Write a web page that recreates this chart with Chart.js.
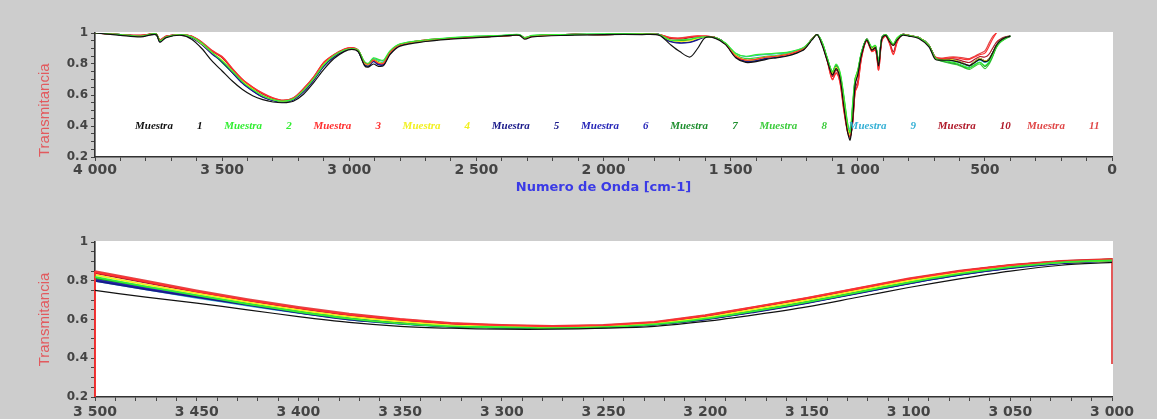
<!DOCTYPE html>
<html>
<head>
<meta charset="utf-8">
<script src="https://cdn.jsdelivr.net/npm/chart.js@4.4.1/dist/chart.umd.min.js"></script>
<style>
  body { margin: 0; background: #cdcdcd; width: 1157px; height: 419px; overflow: hidden; position: relative; }
  .box { position: absolute; left: 0; width: 1157px; }
</style>
</head>
<body>
<div class="box" style="top:0; height:205px"><canvas id="spectrum"></canvas></div>
<div class="box" style="top:205px; height:214px"><canvas id="zoomband"></canvas></div>
<script>
// sample names and colours
const muestras = ['Muestra 1','Muestra 2','Muestra 3','Muestra 4','Muestra 5','Muestra 6','Muestra 7','Muestra 8','Muestra 9','Muestra 10','Muestra 11'];
const colores = ['#111111','#33ee33','#ff3030','#f2f020','#1a1a8a','#2727b8','#1f8f2f','#3ccc3c','#35b0d5','#b01a2a','#e04848'];

// full spectrum, wavenumber (cm-1)
const ondaTop = [
  4000,3900,3820,3760,3745,3720,3660,3620,
  3580,3540,3500,3460,3420,3380,3340,3300,3260,3220,3180,3140,3100,3060,3020,2990,
  2965,2940,2925,2905,2885,2865,2840,2800,
  2700,2600,2500,2400,2330,2310,2280,2150,2000,1850,1780,
  1740,1700,1660,1630,1600,1560,1520,
  1480,1440,1400,1360,1320,1280,1240,1210,1180,
  1160,1140,1120,1100,1085,1070,1055,1040,1030,1020,1010,1000,985,965,945,930,918,905,890,875,860,845,825,
  800,760,720,695,670,640,610,580,560,540,520,500,485,470,455,440,420,400
];

const m1 = [
  1.00,0.985,0.975,0.99,0.94,0.97,0.985,0.96,
  0.90,0.82,0.755,0.69,0.635,0.595,0.57,0.555,0.55,0.56,0.605,0.68,0.765,0.835,0.88,0.895,
  0.88,0.79,0.78,0.80,0.785,0.79,0.86,0.915,
  0.945,0.96,0.97,0.98,0.985,0.96,0.975,0.985,0.99,0.99,0.985,
  0.93,0.88,0.845,0.90,0.97,0.965,0.925,
  0.84,0.81,0.815,0.83,0.84,0.85,0.87,0.895,0.955,
  0.99,0.92,0.82,0.73,0.77,0.71,0.53,0.36,0.31,0.44,0.67,0.73,0.86,0.955,0.89,0.905,0.79,0.965,0.985,0.945,0.92,0.955,0.985,
  0.98,0.965,0.91,0.83,0.825,0.825,0.815,0.80,0.79,0.81,0.83,0.815,0.825,0.87,0.92,0.95,0.97,0.98
];
const m2 = [
  1.00,0.99,0.98,0.995,0.95,0.975,0.99,0.975,
  0.935,0.875,0.82,0.755,0.685,0.635,0.595,0.57,0.56,0.575,0.63,0.705,0.795,0.855,0.89,0.90,
  0.89,0.815,0.805,0.84,0.83,0.825,0.885,0.93,
  0.955,0.97,0.98,0.985,0.99,0.97,0.985,0.99,0.995,0.995,0.99,
  0.955,0.955,0.96,0.97,0.975,0.97,0.935,
  0.87,0.85,0.86,0.865,0.87,0.875,0.89,0.91,0.96,
  0.99,0.94,0.84,0.75,0.80,0.75,0.60,0.42,0.36,0.55,0.71,0.76,0.88,0.96,0.91,0.92,0.82,0.97,0.99,0.96,0.93,0.97,0.99,
  0.985,0.97,0.92,0.84,0.825,0.815,0.805,0.785,0.775,0.795,0.81,0.79,0.81,0.855,0.91,0.94,0.965,0.98
];
const m3 = [
  1.00,0.99,0.985,0.995,0.955,0.98,0.99,0.98,
  0.94,0.885,0.845,0.77,0.70,0.65,0.61,0.58,0.565,0.58,0.64,0.715,0.81,0.86,0.895,0.905,
  0.89,0.81,0.80,0.825,0.805,0.805,0.875,0.925,
  0.955,0.965,0.975,0.98,0.985,0.97,0.98,0.99,0.99,0.995,0.99,
  0.97,0.965,0.975,0.98,0.98,0.97,0.93,
  0.85,0.825,0.83,0.845,0.85,0.86,0.88,0.905,0.96,
  0.99,0.93,0.82,0.70,0.74,0.68,0.50,0.36,0.33,0.42,0.62,0.66,0.84,0.95,0.88,0.89,0.76,0.95,0.98,0.93,0.86,0.94,0.99,
  0.985,0.97,0.92,0.845,0.835,0.84,0.84,0.83,0.83,0.845,0.86,0.87,0.91,0.96,1.00,null,null,null
];
const m4 = [
  1.00,0.99,0.98,0.99,0.95,0.975,0.99,0.975,
  0.93,0.875,0.825,0.755,0.69,0.64,0.595,0.57,0.56,0.575,0.63,0.705,0.80,0.855,0.89,0.90,
  0.885,0.805,0.795,0.825,0.81,0.805,0.875,0.925,
  0.95,0.965,0.975,0.98,0.985,0.965,0.98,0.99,0.99,0.995,0.99,
  0.955,0.945,0.95,0.965,0.975,0.97,0.93,
  0.855,0.825,0.83,0.845,0.85,0.86,0.88,0.90,0.96,
  0.99,0.93,0.83,0.74,0.78,0.72,0.56,0.39,0.34,0.47,0.69,0.75,0.87,0.96,0.90,0.91,0.80,0.97,0.99,0.95,0.92,0.96,0.99,
  0.985,0.97,0.92,0.835,0.83,0.83,0.82,0.80,0.79,0.815,0.835,0.82,0.83,0.87,0.92,0.95,0.97,0.98
];
const m5 = [
  1.00,0.99,0.98,0.99,0.945,0.975,0.99,0.97,
  0.925,0.865,0.815,0.745,0.675,0.625,0.585,0.565,0.555,0.57,0.62,0.695,0.785,0.845,0.885,0.90,
  0.88,0.795,0.785,0.815,0.795,0.795,0.865,0.92,
  0.95,0.965,0.975,0.98,0.985,0.965,0.98,0.99,0.99,0.995,0.99,
  0.945,0.935,0.94,0.955,0.975,0.97,0.93,
  0.845,0.815,0.82,0.835,0.845,0.855,0.875,0.90,0.96,
  0.99,0.93,0.83,0.74,0.78,0.72,0.55,0.38,0.33,0.45,0.68,0.74,0.87,0.96,0.90,0.91,0.80,0.97,0.99,0.95,0.92,0.96,0.99,
  0.985,0.97,0.92,0.84,0.83,0.83,0.82,0.80,0.79,0.815,0.835,0.82,0.83,0.87,0.92,0.95,0.97,0.98
];
const m6 = [
  1.00,0.99,0.98,0.99,0.948,0.975,0.99,0.972,
  0.928,0.868,0.818,0.748,0.678,0.628,0.588,0.565,0.555,0.57,0.622,0.698,0.788,0.848,0.888,0.90,
  0.882,0.798,0.788,0.818,0.798,0.798,0.868,0.92,
  0.95,0.965,0.975,0.98,0.985,0.965,0.98,0.99,0.99,0.995,0.99,
  0.948,0.938,0.942,0.958,0.975,0.97,0.93,
  0.848,0.818,0.822,0.838,0.845,0.855,0.875,0.90,0.96,
  0.99,0.93,0.83,0.74,0.78,0.72,0.55,0.38,0.335,0.455,0.68,0.74,0.87,0.96,0.90,0.91,0.80,0.97,0.99,0.95,0.92,0.96,0.99,
  0.985,0.97,0.92,0.84,0.83,0.83,0.82,0.80,0.79,0.815,0.835,0.82,0.83,0.87,0.92,0.95,0.97,0.98
];
const m7 = [
  1.00,0.99,0.98,0.995,0.95,0.975,0.99,0.975,
  0.935,0.875,0.81,0.745,0.68,0.63,0.59,0.565,0.555,0.57,0.625,0.70,0.79,0.85,0.89,0.90,
  0.885,0.80,0.79,0.82,0.80,0.80,0.87,0.92,
  0.95,0.965,0.975,0.98,0.985,0.965,0.98,0.99,0.99,0.995,0.99,
  0.955,0.95,0.955,0.965,0.975,0.97,0.93,
  0.85,0.82,0.825,0.84,0.845,0.855,0.875,0.90,0.96,
  0.99,0.935,0.835,0.745,0.79,0.735,0.58,0.40,0.35,0.52,0.70,0.75,0.875,0.96,0.905,0.915,0.81,0.97,0.99,0.955,0.925,0.965,0.99,
  0.985,0.97,0.92,0.84,0.82,0.81,0.80,0.78,0.775,0.795,0.81,0.785,0.805,0.85,0.91,0.94,0.965,0.98
];
const m8 = [
  1.00,0.99,0.98,0.995,0.95,0.975,0.99,0.975,
  0.932,0.872,0.815,0.75,0.683,0.632,0.592,0.567,0.557,0.572,0.627,0.702,0.792,0.852,0.89,0.90,
  0.888,0.808,0.80,0.83,0.815,0.81,0.878,0.925,
  0.952,0.967,0.977,0.982,0.987,0.967,0.982,0.99,0.992,0.995,0.99,
  0.953,0.95,0.955,0.967,0.975,0.97,0.932,
  0.86,0.835,0.84,0.85,0.855,0.865,0.882,0.905,0.96,
  0.99,0.94,0.84,0.75,0.795,0.74,0.59,0.41,0.355,0.53,0.705,0.755,0.877,0.96,0.905,0.915,0.81,0.97,0.99,0.955,0.928,0.965,0.99,
  0.985,0.97,0.92,0.838,0.818,0.805,0.795,0.775,0.765,0.785,0.80,0.77,0.795,0.845,0.905,0.94,0.962,0.978
];
const m9 = [
  1.00,0.99,0.98,0.99,0.95,0.975,0.99,0.975,
  0.93,0.87,0.81,0.745,0.68,0.628,0.59,0.565,0.555,0.57,0.625,0.70,0.79,0.85,0.89,0.90,
  0.887,0.81,0.80,0.835,0.825,0.82,0.88,0.928,
  0.953,0.968,0.978,0.983,0.988,0.968,0.983,0.99,0.993,0.995,0.99,
  0.952,0.95,0.955,0.966,0.975,0.97,0.933,
  0.868,0.848,0.855,0.862,0.866,0.872,0.888,0.908,0.96,
  0.99,0.935,0.835,0.745,0.785,0.73,0.57,0.40,0.345,0.50,0.70,0.75,0.875,0.96,0.90,0.912,0.805,0.97,0.99,0.952,0.925,0.962,0.99,
  0.985,0.97,0.92,0.84,0.828,0.825,0.815,0.795,0.785,0.808,0.825,0.81,0.822,0.865,0.918,0.948,0.968,0.98
];
const m10 = [
  1.00,0.99,0.985,0.995,0.955,0.98,0.99,0.978,
  0.938,0.882,0.84,0.765,0.695,0.645,0.605,0.577,0.563,0.578,0.637,0.712,0.805,0.858,0.893,0.903,
  0.888,0.806,0.797,0.823,0.803,0.803,0.872,0.923,
  0.953,0.965,0.975,0.98,0.985,0.968,0.98,0.99,0.99,0.995,0.99,
  0.965,0.96,0.97,0.975,0.978,0.97,0.93,
  0.85,0.822,0.828,0.843,0.848,0.858,0.878,0.903,0.96,
  0.99,0.93,0.825,0.72,0.76,0.70,0.52,0.37,0.33,0.43,0.64,0.69,0.85,0.955,0.89,0.90,0.78,0.96,0.985,0.94,0.88,0.95,0.99,
  0.985,0.97,0.92,0.842,0.833,0.835,0.83,0.815,0.81,0.83,0.848,0.845,0.86,0.90,0.94,0.96,0.975,0.982
];
const m11 = [
  1.00,0.99,0.985,0.995,0.957,0.98,0.99,0.98,
  0.942,0.888,0.848,0.772,0.702,0.652,0.612,0.582,0.567,0.582,0.642,0.717,0.812,0.862,0.897,0.906,
  0.89,0.81,0.80,0.825,0.805,0.805,0.875,0.925,
  0.955,0.965,0.975,0.98,0.985,0.97,0.98,0.99,0.99,0.995,0.99,
  0.972,0.968,0.977,0.982,0.98,0.97,0.93,
  0.85,0.825,0.83,0.845,0.85,0.86,0.88,0.905,0.96,
  0.99,0.93,0.82,0.70,0.745,0.685,0.51,0.365,0.335,0.425,0.625,0.665,0.845,0.95,0.885,0.89,0.765,0.955,0.98,0.935,0.865,0.945,0.99,
  0.985,0.97,0.92,0.845,0.838,0.845,0.845,0.838,0.835,0.85,0.868,0.885,0.93,0.975,1.00,null,null,null
];

// O-H band close up, 3500 -> 3000 cm-1
const ondaBot = [3500,3475,3450,3425,3400,3375,3350,3325,3300,3275,3250,3225,3200,3175,3150,3125,3100,3075,3050,3025,3000];
const b1  = [0.75,0.715,0.685,0.65,0.615,0.585,0.565,0.555,0.55,0.55,0.555,0.565,0.59,0.625,0.665,0.715,0.765,0.81,0.85,0.88,0.895];
const b2  = [0.82,0.77,0.725,0.68,0.64,0.605,0.58,0.565,0.56,0.555,0.56,0.575,0.605,0.645,0.69,0.74,0.79,0.835,0.87,0.895,0.905];
const b3  = [0.845,0.795,0.745,0.70,0.66,0.625,0.60,0.58,0.57,0.565,0.57,0.585,0.62,0.665,0.71,0.76,0.81,0.85,0.88,0.90,0.91];
const b4  = [0.83,0.78,0.735,0.69,0.65,0.615,0.59,0.57,0.565,0.56,0.565,0.58,0.61,0.655,0.70,0.75,0.80,0.84,0.875,0.895,0.905];
const b5  = [0.80,0.755,0.715,0.675,0.635,0.60,0.58,0.565,0.56,0.555,0.56,0.575,0.60,0.64,0.685,0.735,0.785,0.83,0.865,0.89,0.905];
const b6  = [0.805,0.76,0.72,0.678,0.637,0.603,0.58,0.565,0.56,0.555,0.56,0.575,0.602,0.642,0.687,0.737,0.787,0.832,0.867,0.892,0.905];
const b7  = [0.81,0.765,0.72,0.68,0.64,0.605,0.58,0.565,0.56,0.555,0.56,0.575,0.605,0.645,0.69,0.74,0.79,0.835,0.87,0.895,0.905];
const b8  = [0.815,0.77,0.725,0.682,0.642,0.607,0.582,0.566,0.56,0.556,0.561,0.577,0.607,0.647,0.692,0.742,0.792,0.837,0.872,0.896,0.906];
const b9  = [0.80,0.755,0.712,0.672,0.634,0.60,0.578,0.563,0.558,0.554,0.559,0.574,0.603,0.642,0.686,0.736,0.786,0.831,0.866,0.891,0.904];
const b10 = [0.84,0.79,0.742,0.697,0.657,0.622,0.597,0.578,0.568,0.563,0.568,0.583,0.617,0.662,0.707,0.757,0.807,0.848,0.879,0.90,0.91];
const b11 = [0.85,0.80,0.75,0.705,0.665,0.63,0.603,0.582,0.572,0.567,0.572,0.588,0.622,0.667,0.712,0.762,0.812,0.852,0.882,0.902,0.912];
// edge artefacts: Muestra 3 runs down the left edge, Muestra 11 down the right edge
const caidaIzq3 = 0.20;
const caidaDer11 = 0.37;

const serieTop = [m1,m2,m3,m4,m5,m6,m7,m8,m9,m10,m11];
const serieBot = [b1,b2,b3,b4,b5,b6,b7,b8,b9,b10,b11];

function puntos(xs, ys) {
  return xs.map((x, i) => ({ x: x, y: ys[i] }));
}

function miles(v) {
  return v >= 1000 ? Math.floor(v / 1000) + ' ' + String(v % 1000).padStart(3, '0') : String(v);
}

// white plotting area
const fondoPlot = {
  id: 'fondoPlot',
  beforeDraw(chart) {
    const a = chart.chartArea;
    chart.ctx.save();
    chart.ctx.fillStyle = '#ffffff';
    chart.ctx.fillRect(a.left + 1, a.top - 1, a.right - a.left, a.bottom - a.top + 1);
    chart.ctx.restore();
  }
};

// row of coloured "Muestra n" labels inside the plot
const leyendaMuestras = {
  id: 'leyendaMuestras',
  afterDatasetsDraw(chart, args, opts) {
    const ctx = chart.ctx;
    ctx.save();
    ctx.font = 'italic bold 11px "Liberation Serif"';
    ctx.textBaseline = 'middle';
    ctx.textAlign = 'left';
    chart.data.datasets.forEach((ds, i) => {
      const x = opts.x0 + i * opts.dx;
      const parts = ds.label.split(' ');
      ctx.fillStyle = ds.borderColor;
      ctx.fillText(parts[0], x, opts.y);
      ctx.fillText(parts[1], x + opts.numDx, opts.y);
    });
    ctx.restore();
  }
};

function ejeY(titlePad, align) {
  return {
    min: 0.2, max: 1,
    afterFit(s) { s.width = 95; },
    border: { color: '#333', width: 1.5 },
    grid: { drawOnChartArea: false, tickLength: 4, color: '#444' },
    ticks: {
      stepSize: 0.05, autoSkip: false, padding: 3, color: '#444', font: { family: 'DejaVu Sans', size: 12, weight: 'bold' },
      callback: v => {
        const k = Math.round(v * 100);
        if (k % 20 !== 0) return '';
        return k === 100 ? '1' : (k / 100).toFixed(1);
      }
    },
    title: {
      display: true, text: 'Transmitancia', color: '#e25a5e', align: align,
      font: { family: 'Liberation Sans', size: 15 }, padding: { top: titlePad, bottom: 0 }
    }
  };
}

new Chart(document.getElementById('spectrum'), {
  type: 'line',
  data: {
    datasets: muestras.map((m, i) => ({
      label: m,
      data: puntos(ondaTop, serieTop[i]),
      borderColor: colores[i],
      borderWidth: 1.2,
      pointRadius: 0,
      tension: 0.3
    }))
  },
  options: {
    responsive: true, maintainAspectRatio: false, animation: false,
    layout: { padding: { top: 33, right: 45, left: 0, bottom: 0 } },
    plugins: {
      legend: { display: false }, tooltip: { enabled: false },
      leyendaMuestras: { x0: 135, dx: 89.2, y: 126, numDx: 62 }
    },
    scales: {
      x: {
        type: 'linear', min: 0, max: 4000, reverse: true,
        afterFit(s) { s.height = 48; },
        border: { color: '#333', width: 1.5 },
        grid: { drawOnChartArea: false, tickLength: 4, color: '#444' },
        ticks: {
          stepSize: 100, autoSkip: false, maxRotation: 0, padding: 1, color: '#444', font: { family: 'DejaVu Sans', size: 14, weight: 'bold' },
          callback: v => (v % 500 === 0 ? miles(v) : '')
        },
        title: {
          display: true, text: 'Numero de Onda [cm-1]', color: '#3a3ae6',
          font: { family: 'DejaVu Sans', size: 13, weight: 'bold' }, padding: { top: 0, bottom: 10 }
        }
      },
      y: ejeY(36, 'start')
    }
  },
  plugins: [fondoPlot, leyendaMuestras]
});

new Chart(document.getElementById('zoomband'), {
  type: 'line',
  data: {
    datasets: muestras.map((m, i) => {
      const d = puntos(ondaBot, serieBot[i]);
      if (i === 2) d.unshift({ x: ondaBot[0], y: caidaIzq3 });
      if (i === 10) d.push({ x: ondaBot[ondaBot.length - 1], y: caidaDer11 });
      return {
        label: m,
        data: d,
        borderColor: colores[i],
        borderWidth: i === 0 ? 1.2 : 1.8,
        pointRadius: 0,
        clip: 3,
        // the two curves with an edge drop are drawn straight so the spline does not overshoot
        tension: (i === 2 || i === 10) ? 0 : 0.3
      };
    })
  },
  options: {
    responsive: true, maintainAspectRatio: false, animation: false,
    layout: { padding: { top: 37, right: 45, left: 0, bottom: 0 } },
    plugins: {
      legend: { display: false }, tooltip: { enabled: false },
      leyendaMuestras: { x0: 138, dx: 81.4, y: 254, numDx: 60 }
    },
    scales: {
      x: {
        type: 'linear', min: 3000, max: 3500, reverse: true,
        afterFit(s) { s.height = 22; },
        border: { color: '#333', width: 1.5 },
        grid: { drawOnChartArea: false, tickLength: 4, color: '#444' },
        ticks: {
          stepSize: 10, autoSkip: false, maxRotation: 0, padding: 3, color: '#444', font: { family: 'DejaVu Sans', size: 14, weight: 'bold' },
          callback: v => (v % 50 === 0 ? miles(v) : '')
        }
      },
      y: ejeY(36, 'center')
    }
  },
  plugins: [fondoPlot, leyendaMuestras]
});
</script>
</body>
</html>
